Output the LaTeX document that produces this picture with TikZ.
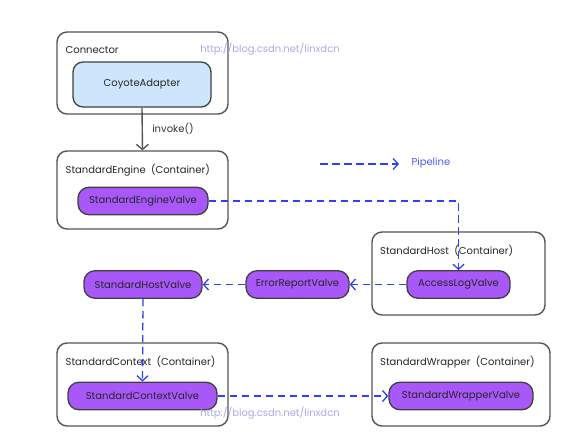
\documentclass[tikz,border=0pt]{standalone}
\usepackage{fontspec}
\setmainfont{Poppins}
\usepackage{tikz}
\usetikzlibrary{arrows.meta,positioning}
\usepackage{xcolor}
\definecolor{Valve}{RGB}{168,88,248}
\definecolor{Coyote}{RGB}{206,230,252}
\definecolor{Pipe}{RGB}{45,65,250}
\definecolor{Frame}{RGB}{85,85,85}
\definecolor{Mark}{RGB}{170,170,235}

\tikzset{
  container/.style={draw=Frame, line width=1.4pt, rounded corners=10pt, minimum width=#1},
  valve/.style={draw=black!75, line width=1.3pt, fill=Valve, rounded corners=11pt, minimum height=27.5pt, inner sep=1pt, text=black!85, font=\fontsize{10}{12}\selectfont},
  title/.style={anchor=west, text=black!85, inner sep=0pt, font=\fontsize{10}{12}\selectfont},
  pipe/.style={draw=Pipe, line width=1.3pt, dash pattern=on 7.5pt off 4.5pt, -{Straight Barb[length=5pt,width=11pt]}},
}

\begin{document}
\begin{tikzpicture}[x=1pt,y=-1pt]
\useasboundingbox (0,0) rectangle (566,432);
% containers
\node[container=171pt, minimum height=82pt] (conn) at (142.5,73) {};
\node[container=171pt, minimum height=78pt] (engine) at (142.5,190) {};
\node[container=173pt, minimum height=83pt] (host) at (458.5,273.5) {};
\node[container=171pt, minimum height=83pt] (context) at (142.5,384.5) {};
\node[container=178pt, minimum height=83pt] (wrapper) at (461,384.5) {};
\node[title] at (65.5,50) {Connector};
\node[title] at (65.5,170) {StandardEngine\ \ (Container)};
\node[title] at (380,251) {StandardHost\ \ (Container)};
\node[title] at (65.5,362) {StandardContext\ \ (Container)};
\node[title] at (380,362) {StandardWrapper\ \ (Container)};
%
\node[draw=black!75, line width=1.3pt, fill=Coyote, rounded corners=10pt, minimum width=138pt, minimum height=45pt, font=\fontsize{10}{12}\selectfont, text=black!85] (coyote) at (142,84.5) {CoyoteAdapter};
% valves
\node[valve, minimum width=130pt] (enginevalve) at (143,201) {StandardEngineValve};
\node[valve, minimum width=103pt] (accesslog) at (458.5,284.5) {AccessLogValve};
\node[valve, minimum width=103pt] (errorreport) at (297.5,284.5) {ErrorReportValve};
\node[valve, minimum width=118pt] (hostvalve) at (143,284.5) {StandardHostValve};
\node[valve, minimum width=149pt] (contextvalve) at (142.5,396) {StandardContextValve};
\node[valve, minimum width=144pt] (wrappervalve) at (461,396) {StandardWrapperValve};
%
\draw[Frame, line width=1.4pt, -{Straight Barb[length=5pt,width=12pt]}] (coyote.south) -- (engine.north) node[midway, right=6pt, text=black!80, font=\fontsize{10}{12}\selectfont] {invoke()};
% pipeline
\draw[pipe] (enginevalve.east) -| (accesslog.north);
\draw[pipe] (accesslog.west) -- (errorreport.east);
\draw[pipe] (errorreport.west) -- (hostvalve.east);
\draw[pipe] (hostvalve.south) -- (contextvalve.north);
\draw[pipe] (contextvalve.east) -- (wrappervalve.west);
% legend
\coordinate (legA) at (320,164);
\coordinate (legB) at (399,164);
\draw[pipe] (legA) -- (legB);
\node[anchor=west, text=Pipe!85, font=\fontsize{10}{12}\selectfont] (legend) at (408,163) {Pipeline};
%
\node[text=Mark, font=\fontsize{10}{12}\selectfont] (mark1) at (270,49) {http://blog.csdn.net/linxdcn};
\node[text=Mark, font=\fontsize{10}{12}\selectfont] (mark2) at (270,413) {http://blog.csdn.net/linxdcn};
\end{tikzpicture}
\end{document}
